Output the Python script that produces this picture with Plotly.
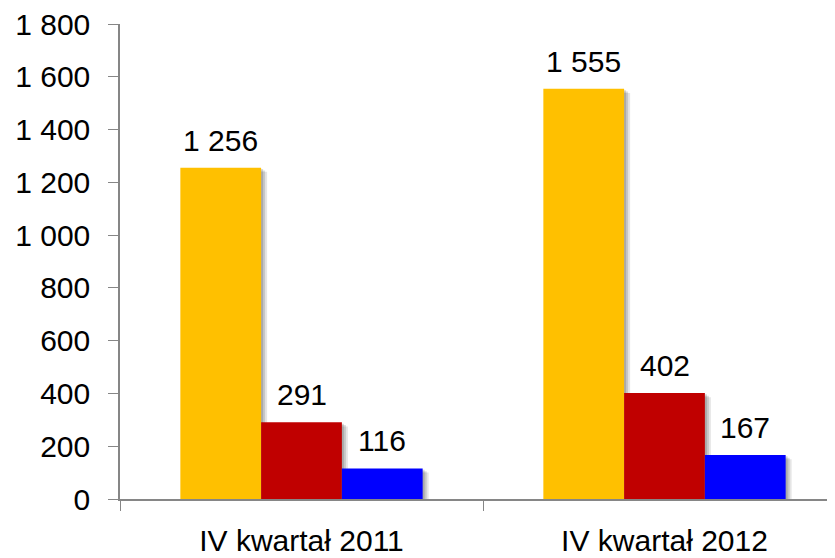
import plotly.graph_objects as go

categories = ["IV kwartał 2011", "IV kwartał 2012"]
series_orange = [1256, 1555]
series_red = [291, 402]
series_blue = [116, 167]
y_ticks = [0, 200, 400, 600, 800, 1000, 1200, 1400, 1600, 1800]

colors = ["#FFC000", "#C00000", "#0000FF"]
series = [series_orange, series_red, series_blue]

W = 0.2225          # bar width in category units
offsets = [-1.5 * W, -0.5 * W, 0.5 * W]
PX_X = 1 / 363.0    # category units per pixel
PX_Y = 1800 / 475.0 # data units per pixel

fig = go.Figure()

# soft drop shadows (drawn first so bars cover them)
for vals, off in zip(series, offsets):
    for k, a in [(2, 0.15), (4, 0.13), (6, 0.10)]:
        fig.add_trace(go.Bar(
            x=categories, y=[v - k * 0.7 * PX_Y for v in vals],
            width=W, offset=off + k * PX_X,
            marker=dict(color=f"rgba(0,0,0,{a})", line=dict(width=0)),
            hoverinfo="skip", showlegend=False))

for vals, off, c in zip(series, offsets, colors):
    fig.add_trace(go.Bar(
        x=categories, y=vals, width=W, offset=off,
        marker=dict(color=c, line=dict(width=0)),
        showlegend=False))

# data labels
for vals, off in zip(series, offsets):
    for i, v in enumerate(vals):
        fig.add_annotation(
            x=i + off + W / 2, y=v, text=f"{v:,}".replace(",", " "),
            showarrow=False, yanchor="bottom", yshift=9,
            font=dict(size=30, color="black"))

fig.update_layout(
    width=835, height=558,
    margin=dict(l=112, r=0, t=16, b=67),
    paper_bgcolor="white", plot_bgcolor="white",
    barmode="overlay",
    separators=", ",
    font=dict(family="Liberation Sans, Arial, sans-serif", size=30, color="black"),
    xaxis=dict(
        type="category", range=[-0.5, -0.5 + 723 / 363.0],
        tickson="boundaries", ticks="outside", ticklen=10, tickcolor="#868686",
        showline=True, linecolor="#868686", linewidth=1.5,
        showgrid=False, zeroline=False, automargin=False,
        ticklabelstandoff=14,
        tickfont=dict(size=30, color="black")),
    yaxis=dict(
        range=[0, 1800.5], tickvals=y_ticks, tickformat=",",
        ticks="outside", ticklen=10, tickcolor="#868686",
        showline=True, linecolor="#868686", linewidth=1.5,
        showgrid=False, zeroline=False, automargin=False,
        ticklabelstandoff=12, ticklabeloverflow="allow",
        tickfont=dict(size=30, color="black")),
)

fig.write_html("out.html")
